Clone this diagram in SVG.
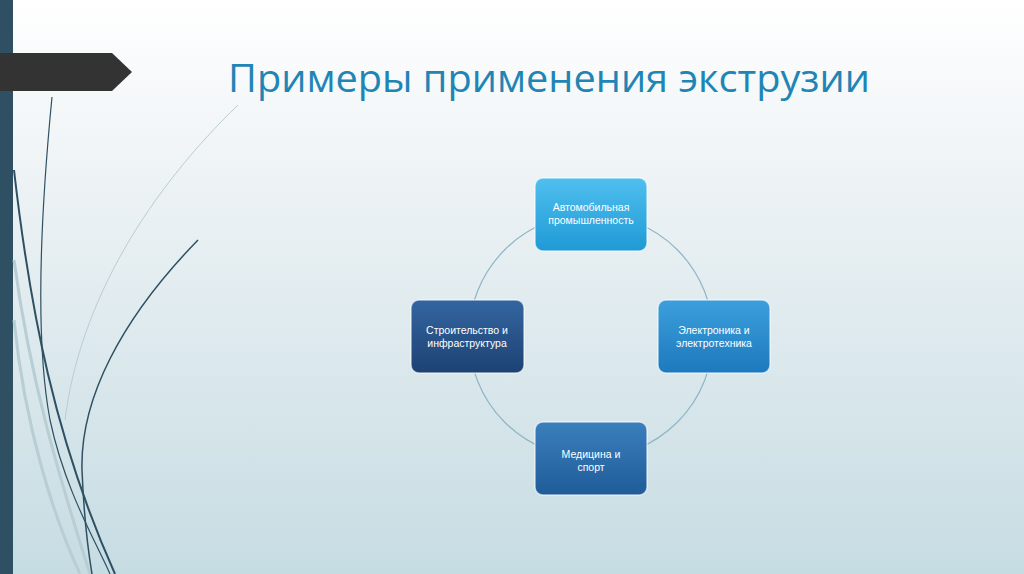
<svg xmlns="http://www.w3.org/2000/svg" width="1024" height="574" viewBox="0 0 1024 574">
<defs>
<linearGradient id="bg" x1="0" y1="0" x2="0" y2="1"><stop offset="0" stop-color="#ffffff"/><stop offset="0.3" stop-color="#eef3f5"/><stop offset="1" stop-color="#c6dce3"/></linearGradient>
<linearGradient id="g1" x1="0" y1="0" x2="0" y2="1"><stop offset="0" stop-color="#4fbfee"/><stop offset="1" stop-color="#1f9ad6"/></linearGradient>
<linearGradient id="g2" x1="0" y1="0" x2="0" y2="1"><stop offset="0" stop-color="#3c9fdc"/><stop offset="1" stop-color="#1d79bd"/></linearGradient>
<linearGradient id="g3" x1="0" y1="0" x2="0" y2="1"><stop offset="0" stop-color="#3a7fbd"/><stop offset="1" stop-color="#1f5c98"/></linearGradient>
<linearGradient id="g4" x1="0" y1="0" x2="0" y2="1"><stop offset="0" stop-color="#3465a0"/><stop offset="1" stop-color="#1d4273"/></linearGradient>
</defs>
<style>
.box{stroke:#ffffff;stroke-width:1.5;stroke-opacity:0.6}
.t{font-family:"Liberation Sans",Arial,sans-serif;font-size:10.5px;fill:#ffffff;text-anchor:middle}
.dk{fill:none;stroke:#2e5062}
.lt{fill:none;stroke:#b9cdd4}
</style>
<rect width="1024" height="574" fill="url(#bg)"/>
<rect x="0" y="0" width="13" height="574" fill="#2e5062"/>
<polygon points="0,53 112,53 132,72 112,91 0,91" fill="#333333"/>
<path class="lt" stroke-width="1" d="M238,105 C150,190 80,300 65,420"/>
<path class="lt" stroke-width="3" d="M14,260 C30,380 60,480 90,574"/>
<path class="lt" stroke-width="3" d="M14,320 C25,430 55,520 80,574"/>
<path class="dk" stroke-width="1.2" d="M52,97 C40,220 35,340 50,420 C65,490 95,540 110,574"/>
<path class="dk" stroke-width="2" d="M14,170 C30,310 55,440 115,574"/>
<path class="dk" stroke-width="1.5" d="M198,240 C120,320 80,400 82,470 C84,520 88,550 92,574"/>
<text x="549" y="92" font-family="'Open Sans','Liberation Sans',sans-serif" font-size="39" fill="#1f85b4" text-anchor="middle" textLength="642" lengthAdjust="spacingAndGlyphs">Примеры применения экструзии</text>
<g id="connectors"><circle cx="591" cy="336" r="122" fill="none" stroke="#8fb5c6" stroke-width="1.2"/></g>
<g id="n1"><rect class="box" x="535" y="178" width="112" height="73" rx="8" fill="url(#g1)"/><text class="t" x="591" y="211">Автомобильная</text><text class="t" x="591" y="224">промышленность</text></g>
<g id="n2"><rect class="box" x="658" y="300" width="112" height="73" rx="8" fill="url(#g2)"/><text class="t" x="714" y="334">Электроника и</text><text class="t" x="714" y="347">электротехника</text></g>
<g id="n3"><rect class="box" x="535" y="422" width="112" height="73" rx="8" fill="url(#g3)"/><text class="t" x="591" y="458">Медицина и</text><text class="t" x="591" y="471">спорт</text></g>
<g id="n4"><rect class="box" x="411" y="300" width="113" height="73" rx="8" fill="url(#g4)"/><text class="t" x="467" y="334">Строительство и</text><text class="t" x="467" y="347">инфраструктура</text></g>
</svg>
